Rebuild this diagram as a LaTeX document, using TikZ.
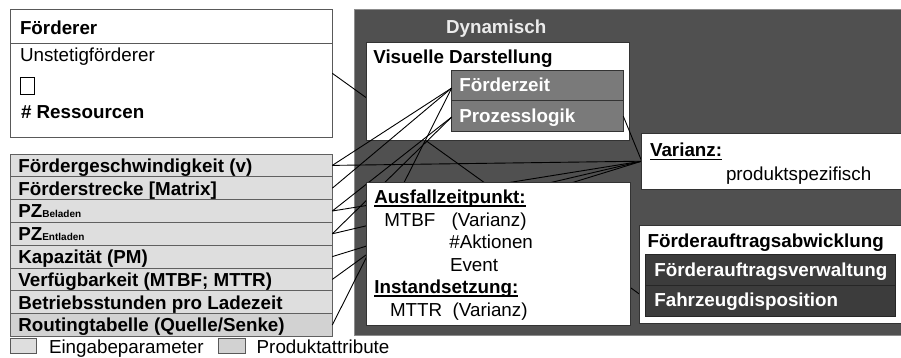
\documentclass[tikz,border=0pt]{standalone}
\usepackage{fontspec}
\setmainfont{Liberation Sans}
\definecolor{dynfill}{HTML}{505050}
\definecolor{dynline}{HTML}{8C8C8C}
\definecolor{hubfill}{HTML}{7A7A7A}
\definecolor{darkfill}{HTML}{3C3C3C}
\definecolor{rowfill}{HTML}{DEDEDE}
\definecolor{prodfill}{HTML}{D2D2D2}
\definecolor{boxline}{HTML}{333333}
\begin{document}
\begin{tikzpicture}[x=1pt,y=-1pt,
  font=\fontsize{18.8pt}{22pt}\selectfont,
  rect/.style={inner sep=0pt, outer sep=0pt, anchor=north west, line width=0.8pt},
  whitebox/.style={rect, draw=boxline, fill=white},
  hubbox/.style={rect, draw=boxline, fill=hubfill, minimum width=171.6pt},
  darkbox/.style={rect, draw=black!85, fill=darkfill, minimum width=250pt},
  rowbox/.style={rect, draw=gray!75!black, fill=rowfill, minimum width=321.6pt, minimum height=22.8pt},
  txt/.style={inner sep=0pt, outer sep=0pt, anchor=base west},
  btxt/.style={txt, font=\fontsize{18.8pt}{22pt}\selectfont\bfseries},
  wtxt/.style={btxt, text=white},
  conn/.style={line width=0.9pt, black},
  uline/.style={line width=1.2pt, black}
]
\useasboundingbox (0,0) rectangle (901,358);

% dynamic background
\node[rect, fill=dynfill, draw=dynline, minimum width=560pt, minimum height=326.4pt] (dyn) at (354,9.3) {};
\node[txt, font=\fontsize{18.8pt}{22pt}\selectfont\bfseries, text=black!8] (dyntitle) at (446,33.3) {Dynamisch};

% Foerderer box
\node[rect, draw=gray!70!black, fill=white, minimum width=321.6pt, minimum height=128pt] (ford) at (10.7,9.3) {};
\coordinate (hl) at (0,43.3);
\draw[gray!70!black, line width=0.8pt] (ford.west |- hl) -- (ford.east |- hl);
\node[btxt] (fordtitle) at (20,35) {Förderer};
\node[txt] (unst) at (20,62) {Unstetigförderer};
\node[rect, draw=black, fill=white, line width=0.6pt, minimum width=13.3pt, minimum height=16.7pt] (sq) at (20.7,77.3) {};
\node[btxt] (ress) at (21,118.3) {\# Ressourcen};

% attribute rows
\node[rowbox] (r1) at (10.7,154) {};
\node[rowbox] (r2) at (10.7,176.8) {};
\node[rowbox] (r3) at (10.7,199.6) {};
\node[rowbox] (r4) at (10.7,222.4) {};
\node[rowbox] (r5) at (10.7,245.2) {};
\node[rowbox] (r6) at (10.7,268) {};
\node[rowbox] (r7) at (10.7,290.8) {};
\node[rowbox, fill=prodfill] (r8) at (10.7,313.6) {};
\node[btxt] (r1t) at (18.3,172.3) {Fördergeschwindigkeit (v)};
\node[btxt] (r2t) at (18.3,195.1) {Förderstrecke [Matrix]};
\node[btxt] (r3t) at (18.3,217.9) {PZ{\fontsize{10pt}{12pt}\selectfont Beladen}};
\node[btxt] (r4t) at (18.3,240.7) {PZ{\fontsize{10pt}{12pt}\selectfont Entladen}};
\node[btxt] (r5t) at (18.3,263.5) {Kapazität (PM)};
\node[btxt] (r6t) at (18.3,286.3) {Verfügbarkeit (MTBF; MTTR)};
\node[btxt] (r7t) at (18.3,309.1) {Betriebsstunden pro Ladezeit};
\node[btxt] (r8t) at (18.3,331.9) {Routingtabelle (Quelle/Senke)};

% legend
\node[rect, draw=gray!70!black, fill=rowfill, minimum width=26pt, minimum height=15pt] (leg1) at (10,338.3) {};
\node[txt] (leg1t) at (49,353) {Eingabeparameter};
\node[rect, draw=gray!70!black, fill=prodfill, minimum width=27pt, minimum height=15pt] (leg2) at (218,338.3) {};
\node[txt] (leg2t) at (256.7,353) {Produktattribute};

% coordinates of connector ends
\coordinate (hubA) at (451.7,88);
\coordinate (hubB) at (451.7,117);
\coordinate (fa) at (639.3,294);
\coordinate (aus6) at (366,255);
\coordinate (V) at (641.7,161.2);

% connectors hidden behind the white boxes
\draw[conn] (ford.east) -- (fa);
\draw[conn] (r3.east) -- (V);
\draw[conn] (r4.east) -- (V);
\draw[conn] (r5.east) -- (V);

% visual representation box
\node[whitebox, minimum width=263.3pt, minimum height=98pt] (vis) at (366,42.7) {};
\node[btxt] (vistitle) at (373.3,64) {Visuelle Darstellung};
\node[hubbox, minimum height=30.7pt] (fz) at (451.7,70) {};
\node[hubbox, minimum height=31pt] (pl) at (451.7,100.7) {};
\node[wtxt] (fzt) at (459.3,91.7) {Förderzeit};
\node[wtxt] (plt) at (459.3,122.3) {Prozesslogik};

% connectors drawn over the visual box
\draw[conn] (r1.east) -- (hubA);
\draw[conn] (r2.east) -- (hubA);
\draw[conn] (r8.east) -- (hubA);
\draw[conn] (r3.east) -- (hubB);
\draw[conn] (r4.east) -- (hubB);
\draw[conn] (r6.east) -- (aus6);
\draw[conn] (r1.east) -- (V);
\draw[conn] (pl.east) -- (V);

% Ausfall box
\node[whitebox, minimum width=264pt, minimum height=142.3pt] (aus) at (366,182.7) {};
\node[btxt] (aust) at (374.3,203.3) {Ausfallzeitpunkt:};
\draw[uline] ([yshift=-2.6pt]aust.base west) -- ([yshift=-2.6pt]aust.base east);
\node[txt] (mtbf) at (384.3,226) {MTBF};
\node[txt] (mtbfv) at (451.7,226) {(Varianz)};
\node[txt] (akt) at (449.3,248.3) {\#Aktionen};
\node[txt] (evt) at (450,271) {Event};
\node[btxt] (inst) at (374.3,293.3) {Instandsetzung:};
\draw[uline] ([yshift=-2.6pt]inst.base west) -- ([yshift=-2.6pt]inst.base east);
\node[txt] (mttr) at (390,316.7) {MTTR};
\node[txt] (mttrv) at (452.7,316.7) {(Varianz)};

% Varianz box
\node[whitebox, minimum width=270pt, minimum height=55.7pt] (var) at (641.7,133.3) {};
\node[btxt] (vart) at (650,156.7) {Varianz:};
\draw[uline] ([yshift=-2.6pt]vart.base west) -- ([yshift=-2.6pt]vart.base east);
\node[txt] (prod) at (726,180) {produktspezifisch};

% Foerderauftragsabwicklung box
\node[whitebox, minimum width=272pt, minimum height=98.3pt] (faw) at (639.3,225) {};
\node[btxt] (fawt) at (647.7,247.7) {Förderauftragsabwicklung};
\node[darkbox, minimum height=30.7pt] (fav) at (645.7,254.3) {};
\node[darkbox, minimum height=31pt] (fzd) at (645.7,285) {};
\node[wtxt] (favt) at (654.3,276.7) {Förderauftragsverwaltung};
\node[wtxt] (fzdt) at (654.3,306.7) {Fahrzeugdisposition};
\end{tikzpicture}
\end{document}
